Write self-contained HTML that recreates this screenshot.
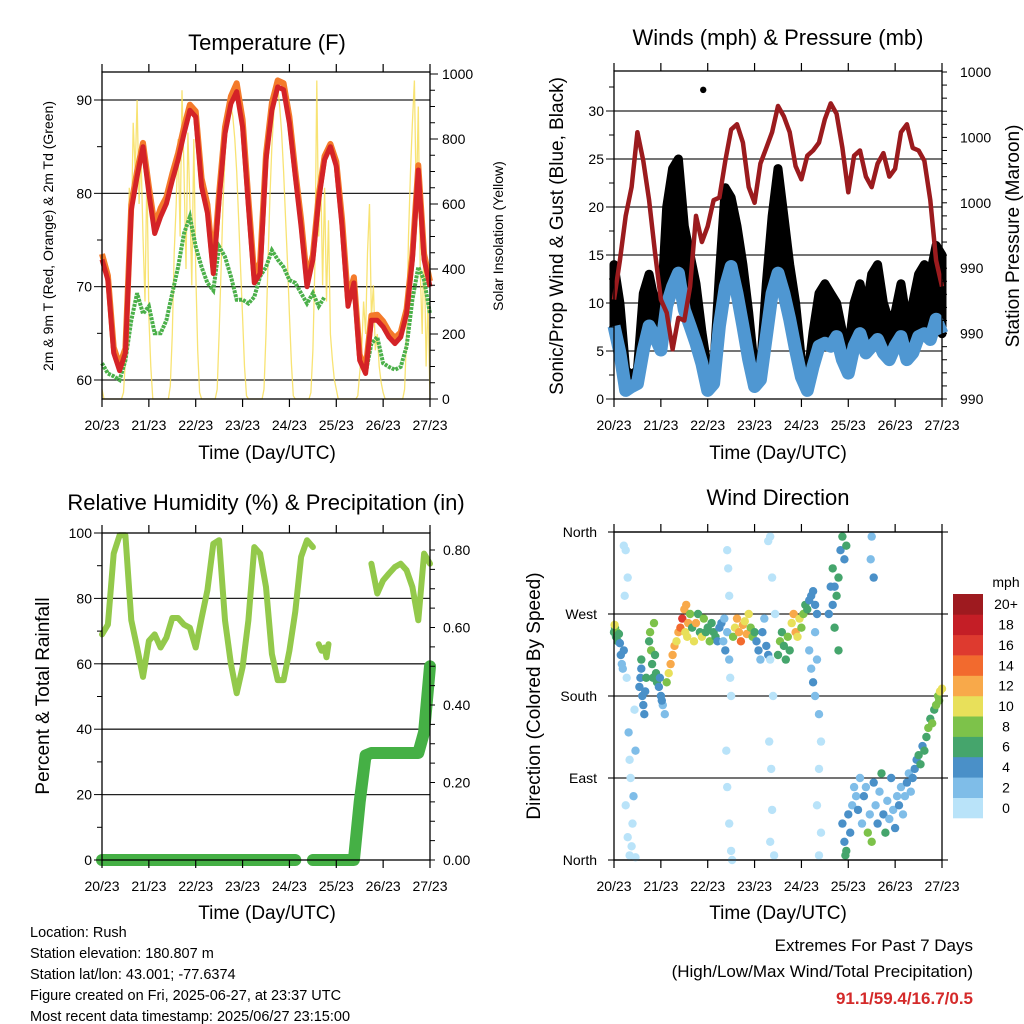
<!DOCTYPE html>
<html><head><meta charset="utf-8">
<style>
html,body{margin:0;padding:0;background:#fff;}
svg{display:block;font-family:"Liberation Sans",Arial,sans-serif;}
</style></head>
<body>
<svg id="chart" width="1024" height="1024" viewBox="0 0 1024 1024" xmlns="http://www.w3.org/2000/svg"></svg>
<script>
// ---------- DATA ----------
const dayLabels = ['20/23','21/23','22/23','23/23','24/23','25/23','26/23','27/23'];
// 3-hour samples, hour 0..168
const temp2m = [72.9,70.7,62.9,61,62.9,78.2,81.8,85,80,75.7,77.5,78.9,81.4,83.6,86.4,88.9,88.2,80.7,77.9,71.4,79.3,86.4,89.6,90.9,87.1,78.6,70.4,71.4,83.6,88.9,91.4,91.1,87.5,81.8,76.4,70,72.9,79.3,83.6,85,82.9,76.4,67.9,70.4,62.1,60.7,66.4,66.4,65.7,64.6,63.9,64.6,67.1,72.9,82.5,72.9,70];
const temp9m = [73.5,71.2,63.5,61.6,63.4,78.8,82.4,85.4,80.7,76.5,78.4,79.6,82.1,84.3,87.1,89.5,88.8,81.6,78.8,72.1,80,87.1,90.4,91.8,87.9,79.4,71.2,72.6,84.2,89.7,92.1,91.8,88.2,82.4,77.2,70.8,73.4,79.8,84,85.3,83.4,77.2,68.6,71,62.7,61.2,66.9,67,66.3,65.2,64.5,65.1,67.6,73.5,83,73.5,70.6];
const dewpt = [61.8,60.7,60.4,60,62.1,66.4,69.3,67.1,67.9,65,65,66.4,69.3,72.1,75.7,77.5,74.3,72.1,70.4,69.6,74.3,73.2,71.1,68.6,68.6,68.2,68.9,71.1,72.1,73.9,72.9,72.1,70.7,70.4,69.3,68.2,69.3,67.9,68.9,null,null,null,null,null,null,60.7,63.9,64.6,61.8,61.4,61.1,61.4,63.6,68.6,72.1,70.7,67.1];
// hourly solar insolation, hour 0..168
const solar = [30,0,0,0,0,0,0,0,0,0,0,20, 120,350,650,500,850,700,920,600,750,500,300,700,
 250,100,0,0,0,0,0,0,0,0,0,40, 200,450,600,800,500,950,700,400,820,600,350,800,
 400,150,20,0,0,0,0,0,0,0,0,30, 200,400,600,750,850,880,900,870,800,700,550,400,
 250,100,10,0,0,0,0,0,0,0,0,30, 200,420,620,780,880,940,960,900,820,700,560,420,
 260,110,10,0,0,0,0,0,0,0,0,20, 150,400,980,500,700,350,650,300,550,200,120,60,
 30,0,0,0,0,0,0,0,0,0,0,10, 80,150,300,200,450,600,250,350,150,200,100,50,
 20,0,0,0,0,0,0,0,0,0,0,30, 200,500,700,850,980,600,900,400,200,500,100,300,0];
const pressure = [991.3,992.8,994.5,995.6,997.7,996.6,995.1,993.1,991.3,990.8,989.4,990.6,990.5,991.8,994.5,993.5,994.1,995.1,995.2,996.6,997.8,998,997.3,995.6,995,996.5,997.1,997.7,998.7,998.3,997.7,996.4,995.9,996.8,997,997.3,998.2,998.8,998.4,997.1,995.4,996.8,997,996,995.6,996.5,996.9,996,996.3,997.7,998,997.1,997,996.6,995.1,992.8,991.8];
const windSpd = [7.6,4.8,0.9,1.3,1.6,5.1,7.6,6.5,5.1,9.7,11.7,13.1,9.3,7.6,5.8,3.7,0.9,1.6,7.6,11.7,13.8,11,7.6,4.1,1.3,2,6.5,11,13.1,11,8.3,5.1,2.3,0.9,3.4,5.5,5.8,5.5,6.5,4.1,2.7,5.5,6.8,4.8,5.5,6.2,4.8,4.1,5.5,6.5,4.1,4.8,6.5,6.8,6.2,8.3,6.8];
const windGust = [14,10,3,2.5,3,11,13,10,9,20,24,25,18,15,12,7,3,3,13,22,21,18,14,9,3,3,12,19,24,19,14,10,4,2,7,11,12,11,10,7,5,10,12,9,13,14,10,8,9,12,8,10,13,14,13,16,15];
const peakGustHour = [45.7];
const peakGustVal = [32.2];
const rh = [69,72,93.7,99.3,99.3,73.3,65,56,67,69,65,68,74,74,72,71,65,74,82.5,96.7,97.8,73.3,60,51,59,73.3,95.7,93.7,83.5,63,55,55,64,76,92.7,97.8,95.7,null,null,null,null,null,null,null,null,null,null,90.6,81.5,85.5,87.6,89.6,90.6,88.6,83.5,73.3,93.7,90.6];
const rhHours = [0,3,6,9,12,15,18,21,24,27,30,33,36,39,42,45,48,51,54,57,60,63,66,69,72,75,78,81,84,87,90,93,96,99,102,105,108,109.6,111,114,117,120,123,126,129,132,135,138,141,144,147,150,153,156,159,162,165,168];
const rhSeg2Hours = [111,112.5,114,115,116];
const rhSeg2 = [66,64,65,62,66];
const precip = [0,0,0,0,0,0,0,0,0,0,0,0,0,0,0,0,0,0,0,0,0,0,0,0,0,0,0,0,0,0,0,0,0,0,null,null,0,0,0,0,0,0,0,0,0.15,0.27,0.276,0.276,0.276,0.276,0.276,0.276,0.276,0.276,0.276,0.33,0.5];
// wind direction scatter
const wdHour = [0,0.5,1,1.5,2,2.5,0.3,3, 3.5,4,4.5,5, 5,6,7,6.5,7.5,8,8.5,6,7,9,8,9.5,10,11,10.5,5.5,11,
 13,13.5,14,14.5,15,15.5,16,14,16.5, 18,18.5,19,19.5,20,20.5,21,21.5,22, 23,24,25,26,23.5,24.5,
 27,28,29,30,31,32,33, 34,35,36,37,38,36.5,37.5,
 39,40,41,42,43,44,45,46,47,48,49,50,51,52,53,54, 55,56,57,58,59,56.5,
 58,58.5,59,59.5,60,58,59,60,57.5,60.5,
 61,62,63,64,65,66,67,68,69,70,71,72, 73,74,75,76,77,78,79,
 80,79,81,80,81.5,79.5,80.5,81,80,82,82.5,
 84,85,86,87,88,89,90, 91,92,93,94,95,96,97, 98,99,100,101,102,103,104,
 100,101,102,103,104,105,106,105,104,106,105,103,
 110,111,112,113,114,115,116,117,118,113,115,112,119, 132,133,131.5,
 117,118,119,120,121,122,118.5,
 123,124,125,126,127,128,129,130,131,132,133,134,135,136,137,138,139,140,141,142,143,144,145,146,147,148,149,150,151,152,
 153,154,155,156,157,158,159, 160,161,162,163,164,165,166,167,168,166.5];
const wdDir = [250,255,245,250,240,248,258,238, 225,215,210,230, 345,340,310,200,140,110,90,60,25,15,5,40,70,120,165,290,3,
 190,200,210,180,170,160,185,220,200, 240,250,230,215,200,260,225,205,195, 190,180,170,160,200,175,
 195,205,215,225,235,240,250, 255,265,275,280,260,250,245,
 270,255,240,260,270,250,245,265,250,255,240,260,250,245,240,255, 260,240,230,250,220,265,
 340,320,290,200,180,80,40,10,120,0,
 245,255,265,250,240,258,262,248,270,255,245,250, 240,230,220,250,265,235,225,
 355,350,310,220,180,130,100,55,20,5,270,
 225,240,250,235,220,245,230, 260,270,250,245,265,255,270, 280,275,285,290,295,280,270,
 230,210,195,180,220,160,130,100,60,30,5,250,
 270,300,320,300,290,310,340,355,330,255,230,280,345, 355,310,330,
 40,20,10,50,30,60,5,
 80,70,55,90,40,70,80,30,50,20,85,60,40,75,95,50,30,65,45,90,55,35,70,60,80,50,70,85,95,75,
 90,100,110,115,105,125,120, 135,145,155,150,165,170,180,185,188,175];
const wdSpd = [7,6,7,8,6,7,10,5, 4,3,3,4, 1,1,1,1,2,1,1,1,1,1,1,1,2,2,1,1,1,
 4,5,4,4,5,4,5,6,6, 7,8,8,7,6,8,6,7,6, 4,4,3,3,5,4,
 8,10,12,13,12,11,13, 14,16,13,12,12,11,10,
 8,7,10,12,7,6,11,9,7,6,8,6,7,6,5,4, 4,3,4,3,3,3,
 1,1,1,1,1,1,1,1,1,1,
 8,11,12,13,14,12,10,13,11,9,8,7, 4,4,3,4,3,4,4,
 1,1,1,1,1,1,1,1,1,1,1,
 7,8,7,6,7,8,6, 10,12,13,11,10,9,8, 7,6,5,4,5,4,4,
 3,3,4,3,2,2,1,1,1,1,1,2,
 5,4,6,5,7,6,4,7,5,6,7,4,6, 3,4,2,
 4,5,6,4,5,3,7,
 3,2,4,3,3,5,2,8,3,8,4,2,5,3,6,4,6,3,2,4,3,5,2,4,3,2,3,4,3,2,
 4,5,4,6,7,5,6, 7,8,7,8,7,8,9,10,10,9];
const speedColors = ['#b9e3f9','#7fbde8','#4a90c8','#45a56c','#7dc24a','#e8e05a','#f8a94a','#f26a2e','#de3a2f','#c41e26','#9e1a1f'];
const speedLabels = ['0','2','4','6','8','10','12','14','16','18','20+'];
const tempTicks = [60,70,80,90];
const solarTicks = [0,200,400,600,800,1000];
const windTicks = [0,5,10,15,20,25,30];
const pressTicks = [987.5,990,992.5,995,997.5,1000];
const pressLabels = ['990','990','990','1000','1000','1000'];
const rhTicks = [0,20,40,60,80,100];
const precipTicks = [0,0.2,0.4,0.6,0.8];
const precipLabels = ['0.00','0.20','0.40','0.60','0.80'];
const dirTicks = [0,90,180,270,360];
const dirLabels = ['North','East','South','West','North'];

// ---------- HELPERS ----------
const NS = 'http://www.w3.org/2000/svg';
const svg = document.getElementById('chart');
function mk(tag, attrs, parent){
  const e = document.createElementNS(NS, tag);
  for (const k in attrs) e.setAttribute(k, attrs[k]);
  (parent || svg).appendChild(e);
  return e;
}
function txt(str, x, y, size, anchor, parent, extra){
  const t = mk('text', Object.assign({x:x, y:y, 'font-size':size, 'text-anchor':anchor||'middle', fill:'#000'}, extra||{}), parent);
  t.textContent = str;
  return t;
}
function hours3(n){ const a=[]; for(let i=0;i<n;i++) a.push(i*3); return a; }
function segs(hs, vs, xf, yf){
  const out=[]; let cur=[];
  for (let i=0;i<vs.length;i++){
    if (vs[i]===null || vs[i]===undefined){ if(cur.length) out.push(cur); cur=[]; }
    else cur.push(xf(hs[i]).toFixed(1)+','+yf(vs[i]).toFixed(1));
  }
  if(cur.length) out.push(cur);
  return out;
}
function xAxis(g, x0, x1, yb, yt, xf){
  for (let d=0; d<dayLabels.length; d++){
    const x = xf(d*24);
    const tb = mk('line',{x1:x,y1:yb,x2:x,y2:yb+8,stroke:'#000','stroke-width':1.2},g);
    
    
    const tt = mk('line',{x1:x,y1:yt,x2:x,y2:yt-8,stroke:'#000','stroke-width':1.2},g);
    
    
    const l = txt(dayLabels[d], x, yb+31, 14, 'middle', g);
    
    
  }
}
function frame(g, x0, y0, x1, y1){
  const r = mk('rect',{x:x0,y:y0,width:x1-x0,height:y1-y0,fill:'none',stroke:'#000','stroke-width':1.3},g);
  
  
}
function grid(g, ys, x0, x1){
  ys.forEach(y=>{
    const l = mk('line',{x1:x0,y1:y,x2:x1,y2:y,stroke:'#222','stroke-width':1.3},g);
    
    
  });
}

// ========== PANEL 1: TEMPERATURE ==========
(function(){
  const g = mk('g',{});
  
  
  const X0=102,X1=430,Y0=72,Y1=399;
  const xf = h => X0 + h*(X1-X0)/168;
  const yT = t => 380 - (t-60)*9.333;
  const yS = v => 399 - v*0.325;
  grid(g, tempTicks.map(yT), X0, X1);
  const sh = solar.map((v,i)=>i);
  const sp = mk('polyline',{points:segs(sh,solar,xf,yS)[0].join(' '),fill:'none',stroke:'#f7de5a','stroke-width':1.3,'stroke-opacity':0.85},g);
  
  
  const h3 = hours3(57);
  segs(h3,dewpt,xf,yT).forEach(s=>{
    const p = mk('polyline',{points:s.join(' '),fill:'none',stroke:'#4bb04a','stroke-width':4,'stroke-dasharray':'3 1'},g);
    
    
  });
  const o = mk('polyline',{points:segs(h3,temp9m,xf,yT)[0].join(' '),fill:'none',stroke:'#f47a2a','stroke-width':6,'stroke-linejoin':'round'},g);
  
  
  const r = mk('polyline',{points:segs(h3,temp2m,xf,yT)[0].join(' '),fill:'none',stroke:'#d42327','stroke-width':5,'stroke-linejoin':'round'},g);
  
  
  frame(g,X0,Y0,X1,Y1);
  xAxis(g,X0,X1,Y1,Y0,xf);
  for (let t=60;t<=90;t+=5){ const y=yT(t);
    const k = mk('line',{x1:X0-(t%10?5:8),y1:y,x2:X0,y2:y,stroke:'#000'},g);
    
     }
  tempTicks.forEach(t=>{ const l=txt(String(t),X0-10,yT(t)+5,14,'end',g);
    
     });
  for (let v=0;v<=1000;v+=50){ const y=yS(v);
    const k = mk('line',{x1:X1,y1:y,x2:X1+(v%200?5:8),y2:y,stroke:'#000'},g);
    
     }
  solarTicks.forEach(v=>{ const l=txt(String(v),X1+12,yS(v)+5,14,'start',g);
    
     });
  const ti = txt('Temperature (F)',267,50,22,'middle',g);
  
  
  const xt = txt('Time (Day/UTC)',267,459,19,'middle',g);
  
  
  const yt = txt('2m & 9m T (Red, Orange) & 2m Td (Green)',0,0,14,'middle',g,{transform:'translate(53,236) rotate(-90)'});
  
  
  const y2 = txt('Solar Insolation (Yellow)',0,0,14,'middle',g,{transform:'translate(503,236) rotate(-90)'});
  
  
})();

// ========== PANEL 2: WINDS ==========
(function(){
  const g = mk('g',{});
  
  
  const X0=614,X1=942,Y0=71,Y1=399;
  const xf = h => X0 + h*(X1-X0)/168;
  const yW = w => 399 - w*9.6;
  const yP = p => 399 - (p-987.5)*26.16;
  grid(g, windTicks.slice(1).map(yW), X0, X1);
  const h3 = hours3(57);
  const top = windGust.map((v,i)=>xf(h3[i]).toFixed(1)+','+yW(v).toFixed(1));
  const bot = windSpd.map((v,i)=>xf(h3[i]).toFixed(1)+','+yW(v).toFixed(1)).reverse();
  const band = mk('polygon',{points:top.concat(bot).join(' '),fill:'#000',stroke:'#000','stroke-width':9,'stroke-linejoin':'round'},g);
  
  
  peakGustHour.forEach((h,i)=>{
    const c = mk('circle',{cx:xf(h),cy:yW(peakGustVal[i]),r:3.2,fill:'#000'},g);
    
    
  });
  const w = mk('polyline',{points:segs(h3,windSpd,xf,yW)[0].join(' '),fill:'none',stroke:'#4f97d2','stroke-width':13,'stroke-linejoin':'round'},g);
  
  
  const p = mk('polyline',{points:segs(h3,pressure,xf,yP)[0].join(' '),fill:'none',stroke:'#9b1b1e','stroke-width':4.5,'stroke-linejoin':'round'},g);
  
  
  const clip = mk('rect',{x:X0-12,y:Y1+1,width:X1-X0+24,height:12,fill:'#fff'},g);
  
  
  frame(g,X0,Y0,X1,Y1);
  xAxis(g,X0,X1,Y1,Y0,xf);
  for (let v=0;v<=32.5;v+=2.5){ const y=yW(v);
    const k = mk('line',{x1:X0-(v%5?5:8),y1:y,x2:X0,y2:y,stroke:'#000'},g);
    
     }
  windTicks.forEach(v=>{ const l=txt(String(v),X0-10,yW(v)+5,14,'end',g);
    
     });
  for (let v=987.5;v<=1000.01;v+=0.5){ const y=yP(v);
    const k = mk('line',{x1:X1,y1:y,x2:X1+5,y2:y,stroke:'#000'},g);
    
     }
  pressTicks.forEach((v,i)=>{ const l=txt(pressLabels[i],X1+18,yP(v)+5,14,'start',g);
    
     });
  const ti = txt('Winds (mph) & Pressure (mb)',778,45,22,'middle',g);
  
  
  const xt = txt('Time (Day/UTC)',778,459,19,'middle',g);
  
  
  const yt = txt('Sonic/Prop Wind & Gust (Blue, Black)',0,0,19,'middle',g,{transform:'translate(563,236) rotate(-90)'});
  
  
  const y2 = txt('Station Pressure (Maroon)',0,0,19,'middle',g,{transform:'translate(1019,236) rotate(-90)'});
  
  
})();

// ========== PANEL 3: RH & PRECIP ==========
(function(){
  const g = mk('g',{});
  
  
  const X0=102,X1=430,Y0=533,Y1=860;
  const xf = h => X0 + h*(X1-X0)/168;
  const yR = r => 860 - r*3.27;
  const yPr = v => 860 - v*387.5;
  grid(g, [20,40,60,80].map(yR), X0, X1);
  segs(rhHours,rh,xf,yR).concat(segs(rhSeg2Hours,rhSeg2,xf,yR)).forEach(s=>{
    const p = mk('polyline',{points:s.join(' '),fill:'none',stroke:'#93c94b','stroke-width':6,'stroke-linejoin':'round','stroke-linecap':'round'},g);
    
    
  });
  const h3 = hours3(57);
  segs(h3,precip,xf,yPr).forEach(s=>{
    const p = mk('polyline',{points:s.join(' '),fill:'none',stroke:'#45b045','stroke-width':12,'stroke-linejoin':'round','stroke-linecap':'round'},g);
    
    
  });
  frame(g,X0,Y0,X1,Y1);
  xAxis(g,X0,X1,Y1,Y0,xf);
  for (let v=0;v<=100;v+=10){ const y=yR(v);
    const k = mk('line',{x1:X0-(v%20?5:8),y1:y,x2:X0,y2:y,stroke:'#000'},g);
    
     }
  rhTicks.forEach(v=>{ const l=txt(String(v),X0-10,yR(v)+5,14,'end',g);
    
     });
  for (let v=0;v<=0.82;v+=0.05){ const y=yPr(v);
    const k = mk('line',{x1:X1,y1:y,x2:X1+5,y2:y,stroke:'#000'},g);
    
     }
  precipTicks.forEach((v,i)=>{ const l=txt(precipLabels[i],X1+13,yPr(v)+5,14,'start',g);
    
     });
  const ti = txt('Relative Humidity (%) & Precipitation (in)',266,510,22,'middle',g);
  
  
  const xt = txt('Time (Day/UTC)',267,919,19,'middle',g);
  
  
  const yt = txt('Percent & Total Rainfall',0,0,19,'middle',g,{transform:'translate(49,696) rotate(-90)'});
  
  
})();

// ========== PANEL 4: WIND DIRECTION ==========
(function(){
  const g = mk('g',{});
  
  
  const X0=614,X1=942,Y0=532,Y1=860;
  const xf = h => X0 + h*(X1-X0)/168;
  const yD = d => 860 - d*328/360;
  grid(g, dirTicks.map(yD), X0-6, X1+6);
  wdHour.forEach((h,i)=>{
    const idx = Math.min(10, Math.floor(wdSpd[i]/2));
    const c = mk('circle',{cx:xf(h).toFixed(1),cy:yD(wdDir[i]).toFixed(1),r:4.2,fill:speedColors[idx]},g);
    
    
  });
  frame(g,X0,Y0,X1,Y1);
  xAxis(g,X0,X1,Y1,Y0,xf);
  dirTicks.forEach((v,i)=>{ const l=txt(dirLabels[i],X0-17,yD(v)+5,14,'end',g);
    
     });
  const ti = txt('Wind Direction',778,505,22,'middle',g);
  
  
  const xt = txt('Time (Day/UTC)',778,919,19,'middle',g);
  
  
  const yt = txt('Direction (Colored By Speed)',0,0,19,'middle',g,{transform:'translate(540,696) rotate(-90)'});
  
  
  const cb = mk('g',{},g);
  
  
  const bh = (818-594)/11;
  speedColors.forEach((c,i)=>{
    const y = 818 - (i+1)*bh;
    const r = mk('rect',{x:953,y:y.toFixed(1),width:30,height:(bh+0.3).toFixed(1),fill:c},cb);
    
    
    const l = txt(speedLabels[i],1006,y+bh/2+5,14,'middle',cb);
    
    
  });
  const u = txt('mph',1006,587,14,'middle',cb);
  
  
})();

// ========== FOOTER TEXT ==========
const infoLines = ['Location: Rush','Station elevation: 180.807 m','Station lat/lon: 43.001; -77.6374','Figure created on Fri, 2025-06-27, at 23:37 UTC','Most recent data timestamp: 2025/06/27 23:15:00'];
infoLines.forEach((s,i)=>{
  const t = txt(s,30,937+i*21,14.5,'start');
  
  
});
const e1 = txt('Extremes For Past 7 Days',973,951,17,'end');


const e2 = txt('(High/Low/Max Wind/Total Precipitation)',973,977,17,'end');


const e3 = txt('91.1/59.4/16.7/0.5',973,1004,17,'end',null,{fill:'#d42a2a','font-weight':'bold'});


</script>
</body></html>
